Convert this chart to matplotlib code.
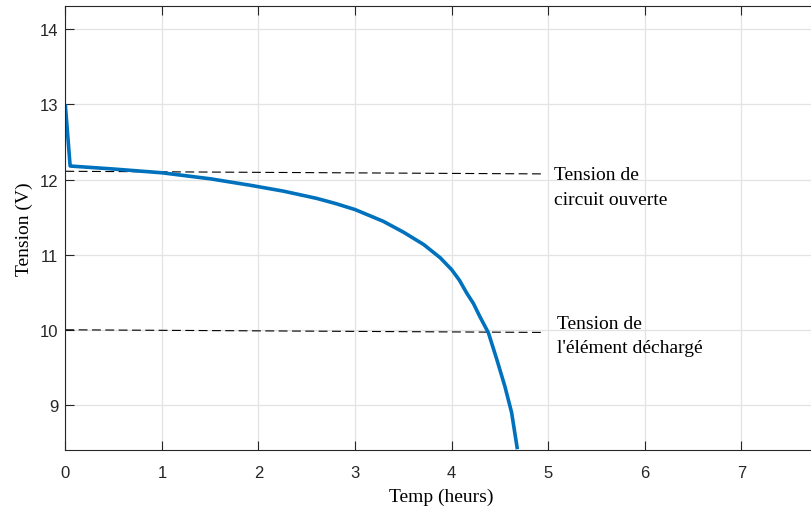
import matplotlib
matplotlib.use("Agg")
import matplotlib.pyplot as plt

# Data
temps = [0.0, 0.05, 0.5, 1.0, 1.5, 1.91, 2.26, 2.6, 2.8, 3.0, 3.29, 3.5, 3.71,
         3.88, 4.0, 4.08, 4.155, 4.225, 4.29, 4.38, 4.466, 4.55, 4.62, 4.68]
tension = [13.0, 12.18, 12.14, 12.09, 12.01, 11.925, 11.845, 11.75, 11.68, 11.60,
           11.445, 11.30, 11.135, 10.96, 10.80, 10.66, 10.49, 10.35, 10.18, 9.96,
           9.61, 9.25, 8.90, 8.41]

ref_x = [0.0, 4.95]
ref_circuit = [12.11, 12.075]
ref_decharge = [10.0, 9.965]

xticks = [0, 1, 2, 3, 4, 5, 6, 7]
yticks = [9, 10, 11, 12, 13, 14]

label_circuit = ["Tension de", "circuit ouverte"]
label_decharge = ["Tension de", "l'élément déchargé"]

serif = "Liberation Serif"
sans = "Liberation Sans"
dark = "#262626"

fig = plt.figure(figsize=(8.12, 5.10), dpi=100)
ax = fig.add_axes([65.3 / 812, 59 / 510, 1 - 65.3 / 812, 444 / 510])

ax.grid(True, color="#e3e3e3", linewidth=0.9)
ax.set_axisbelow(True)

ax.plot(ref_x, ref_circuit, color="black", linewidth=0.8, dashes=(8, 4))
ax.plot(ref_x, ref_decharge, color="black", linewidth=0.8, dashes=(8, 4))
ax.plot(temps, tension, color="#0072BD", linewidth=2.6,
        solid_joinstyle="round", solid_capstyle="butt")

ax.set_xlim(0, 7.73)
ax.set_ylim(8.40, 14.31)
ax.set_xticks(xticks)
ax.set_yticks(yticks)

for sp in ["left", "bottom", "top"]:
    ax.spines[sp].set_color(dark)
    ax.spines[sp].set_linewidth(0.8)
ax.spines["right"].set_visible(False)

ax.tick_params(axis="x", direction="in", length=6.5, width=0.8, color=dark,
               top=True, labelcolor=dark, labelsize=12, pad=11)
ax.tick_params(axis="y", direction="in", length=6.5, width=0.8, color=dark,
               right=False, labelcolor=dark, labelsize=12, pad=5)
for lab in ax.get_xticklabels() + ax.get_yticklabels():
    lab.set_fontfamily(sans)

ax.set_xlabel("Temp (heurs)", fontfamily=serif, fontsize=14, color="black")
ax.set_ylabel("Tension (V)", fontfamily=serif, fontsize=14, color="black")
ax.xaxis.set_label_coords(0.503, -0.084)
ax.yaxis.set_label_coords(-0.043, 0.5)

ax.text(5.06, 12.013, label_circuit[0], fontfamily=serif, fontsize=14, va="baseline")
ax.text(5.06, 11.668, label_circuit[1], fontfamily=serif, fontsize=14, va="baseline")
ax.text(5.09, 10.019, label_decharge[0], fontfamily=serif, fontsize=14, va="baseline")
ax.text(5.09, 9.70, label_decharge[1], fontfamily=serif, fontsize=14, va="baseline")

fig.savefig("out.png", dpi=100)
